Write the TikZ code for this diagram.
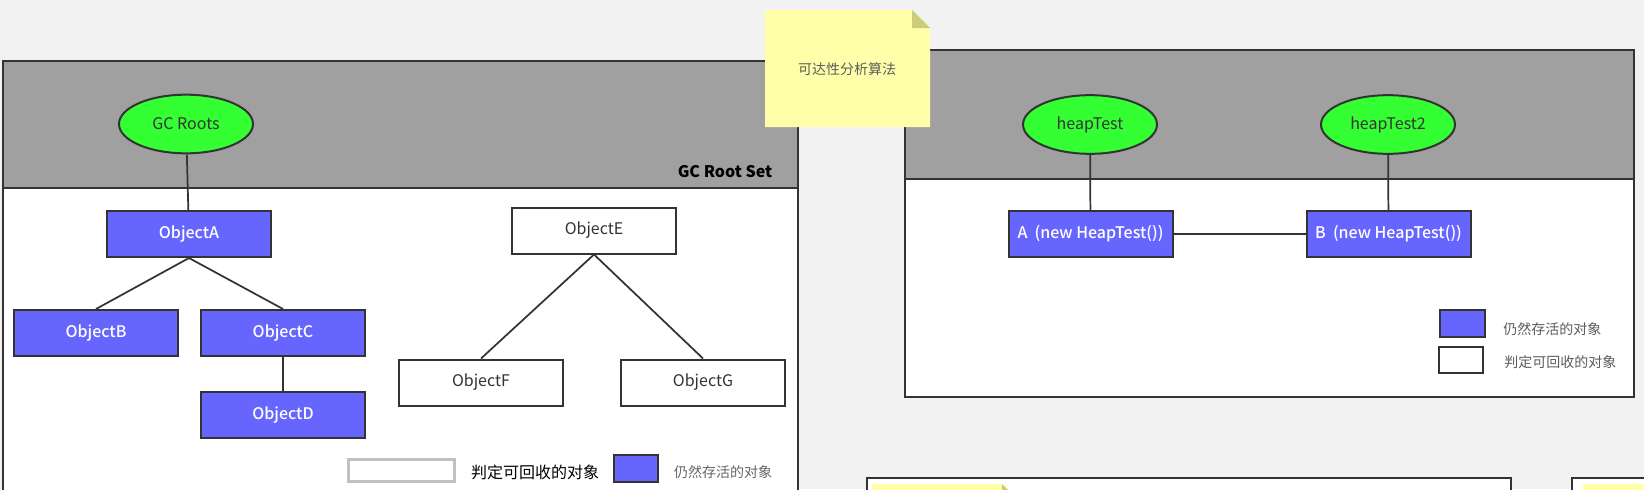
\documentclass[tikz,border=0pt]{standalone}
\usepackage{fontspec}
\setmainfont{Noto Sans CJK SC}
\newfontfamily\medfont{Noto Sans CJK SC Medium}
\usetikzlibrary{shapes.geometric}
\definecolor{bgGray}{HTML}{F2F2F2}
\definecolor{headGray}{HTML}{A0A0A0}
\definecolor{lineDark}{HTML}{333333}
\definecolor{rootGreen}{HTML}{33FF33}
\definecolor{liveBlue}{HTML}{6666FF}
\definecolor{noteYellow}{HTML}{FFFFAA}
\definecolor{noteFold}{HTML}{CCCC7A}
\definecolor{legendGray}{HTML}{C0C0C0}
\tikzset{
  panel/.style={draw=lineDark, line width=1.5pt},
  live/.style={draw=lineDark, line width=1.5pt, fill=liveBlue, text=white,
    font=\medfont\fontsize{12}{14}\selectfont, minimum width=123pt, minimum height=34.5pt, inner sep=0pt},
  dead/.style={draw=lineDark, line width=1.5pt, fill=white, text=lineDark,
    font=\fontsize{12}{14}\selectfont, minimum width=123pt, minimum height=34.5pt, inner sep=0pt},
  root/.style={ellipse, draw=lineDark, line width=1.5pt, fill=rootGreen, text=lineDark,
    font=\fontsize{12}{14}\selectfont, minimum width=100.5pt, minimum height=44pt, inner sep=0pt},
  link/.style={draw=lineDark, line width=1.3pt},
  legtext/.style={text=lineDark!80, font=\fontsize{10.5}{12}\selectfont, inner sep=0pt}
}
\begin{document}
\begin{tikzpicture}[x=0.75pt,y=-0.75pt]
\useasboundingbox (0,0) rectangle (1644,489);
\clip (0,0) rectangle (1644,489);
\fill[bgGray] (0,0) rectangle (1644,489);
\filldraw[panel, fill=headGray] (3,61) rectangle (798,188);
\filldraw[panel, fill=white] (3,188) rectangle (798,520);
\filldraw[panel, fill=headGray] (905,50) rectangle (1634,179);
\filldraw[panel, fill=white] (905,179) rectangle (1634,397);
\filldraw[panel, fill=white] (867,478) rectangle (1511,520);
\filldraw[panel, fill=white] (1572,478) rectangle (1680,520);
\fill[noteYellow] (872,484) -- (1002,484) -- (1020,502) -- (1020,520) -- (872,520) -- cycle;
\fill[noteFold] (1002,484) -- (1002,502) -- (1020,502) -- cycle;
\fill[noteYellow] (1583,484) rectangle (1680,520);
\node[anchor=east, text=black, font=\bfseries\fontsize{12}{14}\selectfont] (rootSet) at (777,172) {GC Root Set};
\node[root] (gcRoots) at (186,124) {GC Roots};
\node[live] (objA) at (189,234) {ObjectA};
\node[live] (objB) at (96,333) {ObjectB};
\node[live] (objC) at (283,333) {ObjectC};
\node[live] (objD) at (283,415) {ObjectD};
\node[dead] (objE) at (594,230.5) {ObjectE};
\node[dead] (objF) at (481,382.5) {ObjectF};
\node[dead] (objG) at (703,382.5) {ObjectG};
\draw[link] (gcRoots) -- (objA);
\draw[link] (objA.south) -- (objB.north);
\draw[link] (objA.south) -- (objC.north);
\draw[link] (objC) -- (objD);
\draw[link] (objE.south) -- (objF.north);
\draw[link] (objE.south) -- (objG.north);
\node[draw=legendGray, line width=2.2pt, minimum width=80pt, minimum height=17pt] (legDead) at (401.5,470.5) {};
\node[text=black, font=\fontsize{12}{14}\selectfont, inner sep=0pt] (legDeadText) at (535,472) {判定可回收的对象};
\node[draw=lineDark, line width=1.5pt, fill=liveBlue, minimum width=33pt, minimum height=20.5pt, inner sep=0pt] (legLive) at (636,468.5) {};
\node[legtext, text=lineDark!75] (legLiveText) at (723,472) {仍然存活的对象};
\node[root] (heapTest) at (1090,124.5) {heapTest};
\node[root] (heapTestB) at (1388,124.5) {heapTest2};
\node[live] (newA) at (1090.5,234) {A\ \ (new HeapTest())};
\node[live] (newB) at (1388.5,234) {B\ \ (new HeapTest())};
\draw[link] (heapTest) -- (newA);
\draw[link] (heapTestB) -- (newB);
\draw[link] (newA) -- (newB);
\node[draw=lineDark, line width=1.5pt, fill=liveBlue, minimum width=34pt, minimum height=20.5pt, inner sep=0pt] (legLiveR) at (1462.5,323.5) {};
\node[draw=lineDark, line width=1.5pt, fill=white, minimum width=33pt, minimum height=20pt, inner sep=0pt] (legDeadR) at (1461,360) {};
\node[legtext, anchor=west] (legLiveRText) at (1503,329) {仍然存活的对象};
\node[legtext, anchor=west] (legDeadRText) at (1504,362) {判定可回收的对象};
\fill[noteYellow] (765,10) -- (912,10) -- (930,28) -- (930,127) -- (765,127) -- cycle;
\fill[noteFold] (912,10) -- (912,28) -- (930,28) -- cycle;
\node[legtext] (noteText) at (847,69) {可达性分析算法};
\end{tikzpicture}
\end{document}
